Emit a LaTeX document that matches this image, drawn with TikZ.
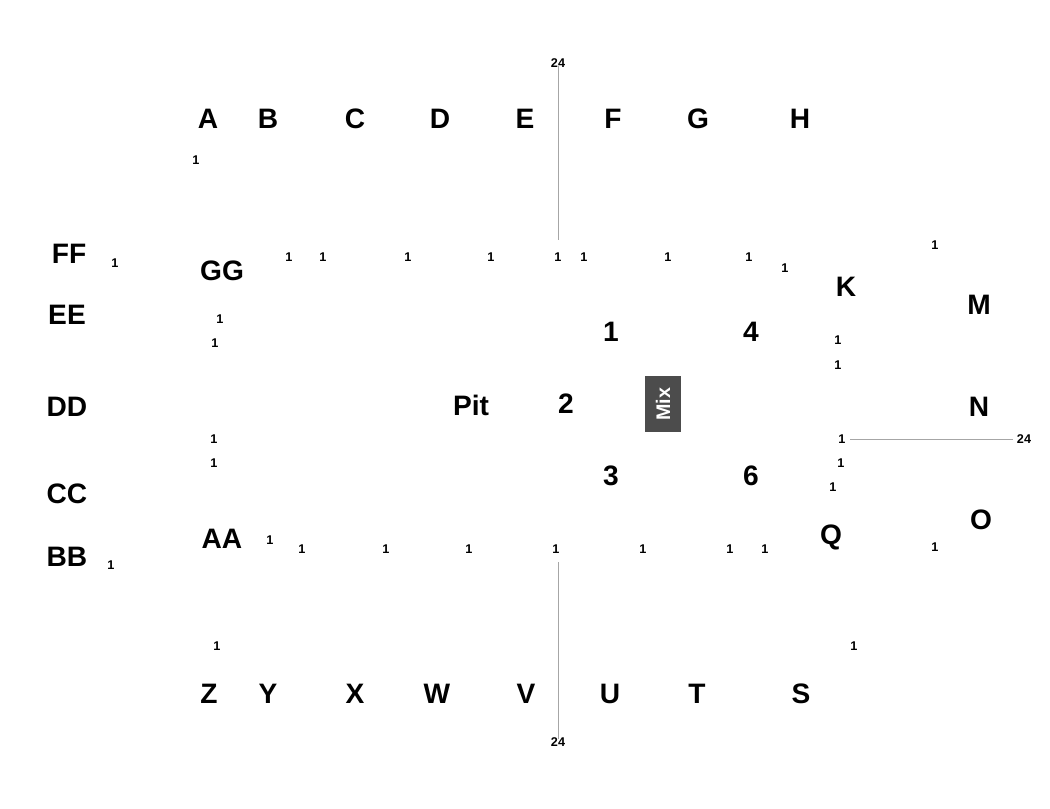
\documentclass[tikz,border=0pt]{standalone}
\usepackage{fontspec}
\setmainfont{Liberation Sans}
\usetikzlibrary{positioning}
\tikzset{
  big/.style={font=\bfseries\fontsize{20}{22}\selectfont, inner sep=0pt},
  tiny/.style={font=\bfseries\fontsize{9}{10}\selectfont, inner sep=0pt},
  rule/.style={draw=gray!70, line width=0.6pt}
}
\begin{document}
\begin{tikzpicture}[x=0.025cm, y=-0.025cm]
        \useasboundingbox (0,0) rectangle (1050,808);

        %big labels
        \foreach \t/\x/\y in {A/208/119, B/268/119, C/355/119, D/440/119, E/525/119, F/613/119, G/698/119, H/800/119,
            FF/69/254, GG/222/271, EE/67/315, K/846/287, M/979/305, DD/67/407, Pit/471/405, 2/566/404, N/979/407,
            1/611/332, 4/751/332, 3/611/476, 6/751/476, CC/67/494, AA/222/539, Q/831/537, O/981/520, BB/67/557,
            Z/209/694, Y/268/694, X/355/694, W/437/694, V/526/694, U/610/694, T/697/694, S/801/694}
            \node[big] (n\t) at (\x,\y) {\t};

        %small labels
        \foreach \x/\y [count=\i] in {196/160, 115/263, 289/257, 323/257, 408/257, 491/257, 558/257, 584/257, 668/257,
            749/257, 785/268, 935/245, 220/319, 215/343, 838/340, 838/365, 214/439, 214/463, 842/439, 841/463, 833/487,
            270/540, 302/549, 386/549, 469/549, 556/549, 643/549, 730/549, 765/549, 935/547, 111/565, 217/646, 854/646}
            \node[tiny] (s\i) at (\x,\y) {1};

        \node[tiny] (top) at (558,63) {24};
        \node[tiny] (bot) at (558,742) {24};
        \node[tiny] (rgt) at (1024,439) {24};

        %lines
        \coordinate (topend) at (558,240);
        \coordinate (botend) at (558,562);
        \coordinate (rgtend) at (850,439);
        \draw[rule] (top.south) ++(0,-2) -- (topend);
        \draw[rule] (bot.north) ++(0,2) -- (botend);
        \draw[rule] (rgt.west) ++(-4,0) -- (rgtend);

        %mix box
        \node[fill=black!70, minimum width=0.9cm, minimum height=1.4cm, inner sep=0pt] (mix) at (663,404) {};
        \node[rotate=90, text=white, font=\bfseries\fontsize{14}{16}\selectfont] at (mix) {Mix};
\end{tikzpicture}
\end{document}
